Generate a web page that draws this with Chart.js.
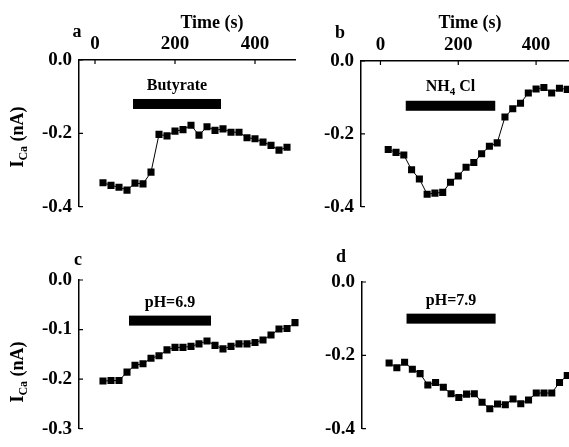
<!DOCTYPE html>
<html>
<head>
<meta charset="utf-8">
<script src="https://cdn.jsdelivr.net/npm/chart.js@4.4.1/dist/chart.umd.min.js"></script>
<style>
  html, body { margin: 0; padding: 0; background: #fff; overflow: hidden; }
  #fig { position: relative; width: 569px; height: 447px; overflow: hidden; background: #fff; }
  #fig canvas { position: absolute; }
</style>
</head>
<body>
<div id="fig">
  <canvas id="panelA" width="300" height="225" style="left:0;top:0"></canvas>
  <canvas id="panelB" width="280" height="225" style="left:300px;top:0"></canvas>
  <canvas id="panelC" width="300" height="222" style="left:0;top:225px"></canvas>
  <canvas id="panelD" width="280" height="222" style="left:300px;top:225px"></canvas>
</div>
<script>
// sampling times (s)
const timeA = [20, 40, 60, 80, 100, 120, 140, 160, 180, 200, 220, 240, 260, 280, 300, 320, 340, 360, 380, 400, 420, 440, 460, 480];
const timeB = [20, 40, 60, 80, 100, 120, 140, 160, 180, 200, 220, 240, 260, 280, 300, 320, 340, 360, 380, 400, 420, 440, 460, 480];
const timeC = [20, 40, 60, 80, 100, 120, 140, 160, 180, 200, 220, 240, 260, 280, 300, 320, 340, 360, 380, 400, 420, 440, 460, 480, 500];
const timeD = [20, 40, 60, 80, 100, 120, 140, 160, 180, 200, 220, 240, 260, 280, 300, 320, 340, 360, 380, 400, 420, 440, 460, 480];

// I_Ca (nA)
const currentA = [-0.335, -0.342, -0.347, -0.355, -0.336, -0.338, -0.306, -0.203, -0.207, -0.194, -0.190, -0.178,
                  -0.205, -0.182, -0.192, -0.188, -0.197, -0.197, -0.212, -0.215, -0.224, -0.233, -0.246, -0.238];
const currentB = [-0.243, -0.251, -0.258, -0.299, -0.324, -0.366, -0.363, -0.361, -0.333, -0.316, -0.292, -0.279,
                  -0.255, -0.234, -0.225, -0.154, -0.131, -0.116, -0.088, -0.077, -0.073, -0.088, -0.075, -0.078];
const currentC = [-0.204, -0.203, -0.203, -0.186, -0.172, -0.169, -0.158, -0.153, -0.141, -0.136, -0.136, -0.134,
                  -0.129, -0.123, -0.132, -0.139, -0.134, -0.129, -0.129, -0.126, -0.121, -0.111, -0.099, -0.098, -0.086];
const currentD = [-0.221, -0.234, -0.219, -0.238, -0.250, -0.281, -0.274, -0.287, -0.305, -0.315, -0.306, -0.305,
                  -0.328, -0.346, -0.333, -0.335, -0.319, -0.332, -0.322, -0.303, -0.303, -0.303, -0.274, -0.255];

// tick labels
const timeTicks = [0, 200, 400];
const yTicksA = [0, -0.2, -0.4];
const yTicksB = [0, -0.2, -0.4];
const yTicksC = [0, -0.1, -0.2, -0.3];
const yTicksD = [0, -0.2, -0.4];

// treatment periods (s)
const treatStart = [95, 65, 85, 65];
const treatEnd = [315, 295, 290, 295];

const FONT = "'Liberation Serif', 'Times New Roman', serif";

function richText(ctx, parts, x, y, align) {
    let w = 0;
    parts.forEach(p => { ctx.font = "bold " + p.size + "px " + FONT; w += ctx.measureText(p.t).width; });
    let cx = align === "center" ? x - w / 2 : x;
    parts.forEach(p => {
        ctx.font = "bold " + p.size + "px " + FONT;
        ctx.fillText(p.t, cx, y + (p.dy || 0));
        cx += ctx.measureText(p.t).width;
    });
}

// draws the bar, its label, panel letter, axis titles and the little inward ticks
function decor(p) {
    return {
        id: "decor",
        afterDraw(chart) {
            const ctx = chart.ctx, xs = chart.scales.x, ys = chart.scales.y, ca = chart.chartArea;
            ctx.save();
            ctx.strokeStyle = "#000";
            ctx.fillStyle = "#000";
            ctx.lineWidth = 1.2;
            ctx.beginPath();
            ys.ticks.forEach(t => {
                const py = ys.getPixelForValue(t.value);
                ctx.moveTo(ca.left, py); ctx.lineTo(ca.left + 4, py);
            });
            if (p.showTime) {
                xs.ticks.forEach(t => {
                    const px = xs.getPixelForValue(t.value);
                    ctx.moveTo(px, ca.top); ctx.lineTo(px, ca.top + 4);
                });
            }
            ctx.stroke();

            // treatment bar
            const x0 = xs.getPixelForValue(p.barFrom), x1 = xs.getPixelForValue(p.barTo);
            const yc = ys.getPixelForValue(p.barLevel);
            ctx.fillRect(x0, yc - 5, x1 - x0, 10);
            ctx.textBaseline = "alphabetic";
            richText(ctx, p.label, (x0 + x1) / 2, yc - 5 - p.labelGap, "center");

            // page coordinates from here
            ctx.translate(-p.left, -p.top);
            ctx.font = "bold 18px " + FONT;
            ctx.textAlign = "center";
            ctx.fillText(p.letter, p.letterX, p.letterY);
            ctx.textAlign = "left";
            if (p.showTime) richText(ctx, [{ t: "Time (s)", size: 18 }], p.timeX, 28, "center");
            if (p.yTitle) {
                ctx.translate(17, p.yTitleY);
                ctx.rotate(-Math.PI / 2);
                richText(ctx, [{ t: "I", size: 18 }, { t: "Ca", size: 12, dy: 4 }, { t: " (nA)", size: 18 }], 0, 6, "center");
            }
            ctx.restore();
        }
    };
}

function makePanel(id, p) {
    return new Chart(document.getElementById(id), {
        type: "line",
        data: {
            datasets: [{
                data: p.time.map((t, i) => ({ x: t, y: p.current[i] })),
                borderColor: "#000",
                borderWidth: 1,
                backgroundColor: "#000",
                pointStyle: "rect",
                pointRadius: 5,
                pointBorderWidth: 0,
                tension: 0,
                clip: 8
            }]
        },
        options: {
            responsive: false,
            animation: false,
            devicePixelRatio: 1,
            layout: { padding: p.pad },
            plugins: { legend: { display: false }, tooltip: { enabled: false } },
            scales: {
                x: {
                    type: "linear",
                    position: "top",
                    display: p.showTime,
                    min: p.xMin,
                    max: 500,
                    grid: { display: false, drawTicks: false },
                    border: { display: true, color: "#000", width: 1.5 },
                    ticks: { color: "#000", padding: 5, maxRotation: 0, font: { family: FONT, size: 19, weight: "bold" } },
                    afterBuildTicks: s => { s.ticks = timeTicks.map(v => ({ value: v })); },
                    afterFit: s => { s.height = p.xHeight; }
                },
                y: {
                    min: p.yTicks[p.yTicks.length - 1],
                    max: 0,
                    grid: { display: false, drawTicks: false },
                    border: { display: true, color: "#000", width: 1.5 },
                    ticks: {
                        color: "#000", padding: 7,
                        font: { family: FONT, size: 19, weight: "bold" },
                        callback: v => v.toFixed(1)
                    },
                    afterBuildTicks: s => { s.ticks = p.yTicks.map(v => ({ value: v })); },
                    afterFit: s => { s.width = p.yWidth; }
                }
            }
        },
        plugins: [decor(p)]
    });
}

makePanel("panelA", {
    time: timeA, current: currentA, yTicks: yTicksA, xMin: -40, showTime: true,
    left: 0, top: 0, pad: { left: 0, right: 3, top: 0, bottom: 9 }, yWidth: 79, xHeight: 60,
    barFrom: treatStart[0], barTo: treatEnd[0], barLevel: -0.12, labelGap: 9,
    label: [{ t: "Butyrate", size: 16 }],
    letter: "a", letterX: 77, letterY: 37, timeX: 212, yTitle: true, yTitleY: 137
});
makePanel("panelB", {
    time: timeB, current: currentB, yTicks: yTicksB, xMin: -50, showTime: true,
    left: 300, top: 0, pad: { left: 0, right: 1, top: 0, bottom: 9 }, yWidth: 61, xHeight: 61,
    barFrom: treatStart[1], barTo: treatEnd[1], barLevel: -0.123, labelGap: 10,
    label: [{ t: "NH", size: 16 }, { t: "4", size: 11, dy: 4 }, { t: " Cl", size: 16 }],
    letter: "b", letterX: 340, letterY: 38, timeX: 470, yTitle: false
});
makePanel("panelC", {
    time: timeC, current: currentC, yTicks: yTicksC, xMin: -40, showTime: false,
    left: 0, top: 225, pad: { left: 0, right: 3, top: 55, bottom: 10 }, yWidth: 79, xHeight: 0,
    barFrom: treatStart[2], barTo: treatEnd[2], barLevel: -0.082, labelGap: 9,
    label: [{ t: "pH=6.9", size: 16 }],
    letter: "c", letterX: 78, letterY: 265, yTitle: true, yTitleY: 372
});
makePanel("panelD", {
    time: timeD, current: currentD, yTicks: yTicksD, xMin: -50, showTime: false,
    left: 300, top: 225, pad: { left: 0, right: 0, top: 57, bottom: 10 }, yWidth: 62, xHeight: 0,
    barFrom: treatStart[3], barTo: treatEnd[3], barLevel: -0.1, labelGap: 9,
    label: [{ t: "pH=7.9", size: 16 }],
    letter: "d", letterX: 341, letterY: 262, yTitle: false
});
</script>
</body>
</html>
